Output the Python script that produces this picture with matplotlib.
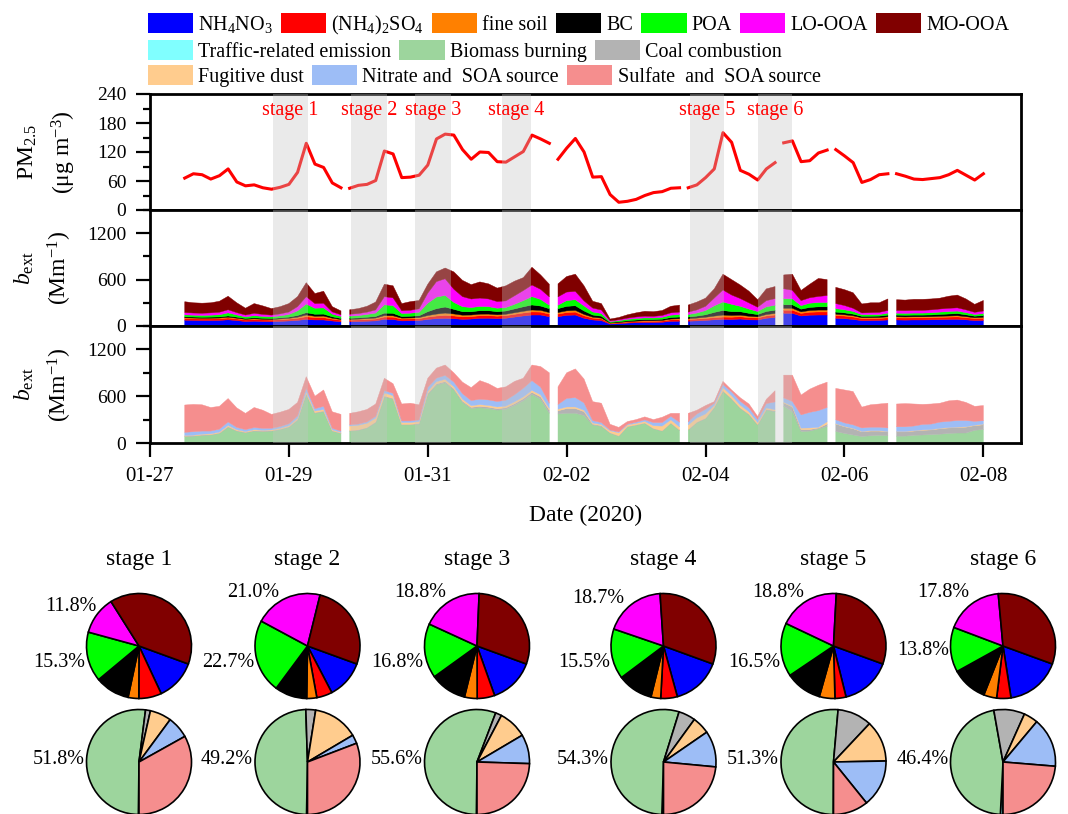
import numpy as np
import matplotlib
matplotlib.use('Agg')
import matplotlib.pyplot as plt
import matplotlib.dates as mdates
from matplotlib.patches import Patch
from matplotlib.ticker import MultipleLocator, NullLocator

plt.rcParams['font.family'] = ['Liberation Serif', 'DejaVu Serif']
plt.rcParams['mathtext.fontset'] = 'custom'
plt.rcParams['mathtext.rm'] = 'Liberation Serif'
plt.rcParams['mathtext.it'] = 'Liberation Serif:italic'
plt.rcParams['mathtext.bf'] = 'Liberation Serif:bold'
plt.rcParams['axes.linewidth'] = 2

# 3-hourly samples, hours after 2020-01-27 00:00
hours = np.arange(12, 289, 3)
gap_after = [66, 138, 183, 216, 234, 255]   # missing data right after these hours

pm25 = [66, 75, 73, 64, 71, 85, 58, 50, 52, 46,
        43, 47, 53, 78, 138, 95, 88, 56, 46, 45,
        51, 53, 61, 122, 116, 67, 68, 72, 93, 147,
        157, 155, 125, 105, 120, 119, 100, 99, 110, 121,
        155, 147, 138, 105, 128, 148, 120, 68, 69, 32,
        16, 18, 22, 30, 36, 38, 45, 46, 46, 52,
        67, 85, 160, 140, 82, 74, 62, 85, 98, 139,
        143, 100, 102, 118, 124, 125, 112, 98, 57, 63,
        73, 75, 75, 70, 64, 63, 65, 67, 73, 82,
        72, 62, 75]

# light extinction by chemical component (Mm-1)
nh4no3 = [75, 72, 70, 70, 72, 80, 70, 58, 62, 58,
          56, 60, 65, 72, 86, 78, 78, 65, 55, 55,
          58, 62, 66, 86, 84, 66, 68, 70, 85, 95,
          99, 95, 86, 90, 99, 100, 95, 100, 115, 130,
          142, 142, 120, 120, 138, 142, 100, 78, 70, 25,
          30, 38, 42, 45, 45, 48, 60, 62, 62, 66,
          72, 80, 86, 84, 90, 80, 78, 100, 110, 164,
          164, 129, 140, 142, 142, 99, 95, 85, 69, 70,
          72, 78, 78, 76, 78, 78, 80, 82, 85, 86,
          80, 70, 72]
nh42so4 = [22, 22, 21, 22, 22, 24, 22, 20, 22, 21,
           20, 22, 24, 28, 34, 30, 30, 24, 20, 20,
           21, 22, 24, 30, 30, 24, 24, 25, 30, 34,
           38, 35, 32, 32, 34, 34, 32, 34, 36, 38,
           40, 38, 34, 34, 36, 38, 32, 24, 22, 8,
           10, 12, 14, 15, 15, 16, 20, 22, 22, 24,
           26, 28, 30, 30, 30, 28, 26, 30, 32, 40,
           40, 34, 38, 40, 40, 35, 34, 32, 26, 26,
           26, 28, 28, 28, 28, 28, 28, 30, 30, 32,
           28, 26, 28]
fine_soil = [9, 9, 9, 9, 9, 10, 9, 8, 9, 8,
             8, 9, 10, 14, 22, 18, 20, 12, 9, 10,
             10, 11, 13, 18, 18, 12, 12, 13, 20, 25,
             30, 26, 22, 20, 20, 20, 18, 18, 20, 22,
             25, 22, 20, 20, 22, 22, 18, 12, 10, 4,
             5, 6, 7, 8, 8, 8, 10, 10, 10, 12,
             15, 20, 25, 22, 20, 18, 14, 18, 20, 25,
             25, 20, 22, 24, 24, 18, 16, 15, 12, 12,
             12, 13, 13, 13, 13, 13, 13, 14, 14, 15,
             13, 11, 12]
bc = [13, 13, 13, 14, 14, 16, 14, 12, 13, 13,
      13, 14, 16, 22, 30, 26, 26, 18, 14, 15,
      16, 18, 20, 32, 32, 20, 22, 24, 50, 70,
      78, 60, 45, 42, 45, 44, 40, 42, 50, 58,
      65, 56, 50, 50, 58, 60, 45, 28, 25, 8,
      10, 12, 14, 15, 15, 16, 20, 22, 22, 26,
      32, 48, 60, 50, 45, 38, 30, 40, 42, 45,
      45, 35, 40, 42, 42, 28, 25, 22, 18, 18,
      18, 22, 22, 22, 22, 22, 22, 24, 26, 28,
      24, 20, 22]
poa = [25, 24, 24, 25, 28, 40, 28, 20, 28, 24,
       22, 26, 34, 60, 112, 78, 80, 35, 26, 28,
       30, 36, 45, 108, 100, 40, 40, 45, 110, 150,
       151, 90, 65, 55, 55, 52, 45, 45, 60, 80,
       108, 86, 45, 45, 75, 78, 65, 40, 35, 12,
       14, 18, 20, 22, 21, 24, 30, 32, 32, 40,
       55, 85, 110, 95, 70, 55, 40, 60, 65, 78,
       78, 45, 55, 56, 56, 45, 40, 35, 22, 22,
       20, 25, 25, 25, 26, 26, 28, 30, 32, 32,
       28, 22, 26]
lo_ooa = [30, 28, 28, 30, 33, 40, 30, 24, 30, 26,
          22, 26, 32, 55, 95, 60, 60, 28, 22, 24,
          26, 30, 40, 105, 100, 36, 38, 45, 130, 200,
          215, 170, 130, 110, 108, 100, 86, 86, 110, 130,
          150, 130, 108, 108, 110, 108, 65, 50, 45, 10,
          12, 16, 20, 22, 21, 24, 30, 32, 32, 40,
          55, 100, 155, 120, 100, 80, 55, 80, 85, 130,
          110, 65, 70, 78, 90, 65, 55, 40, 22, 25,
          28, 35, 35, 34, 35, 35, 38, 40, 42, 42,
          36, 28, 34]
mo_ooa = [140, 132, 130, 130, 142, 175, 127, 88, 126, 110,
          84, 93, 109, 129, 181, 130, 156, 68, 49, 58,
          64, 76, 102, 161, 156, 92, 111, 108, 115, 126,
          139, 224, 210, 186, 209, 195, 174, 195, 189, 167,
          230, 186, 163, 168, 201, 222, 195, 88, 83, 23,
          29, 43, 53, 63, 60, 64, 85, 90, 91, 102,
          105, 119, 204, 199, 175, 151, 97, 152, 156, 178,
          208, 132, 175, 233, 206, 210, 205, 201, 116, 127,
          124, 149, 139, 137, 143, 143, 141, 140, 156, 165,
          141, 103, 136]

# light extinction by source (Mm-1)
traffic = [2] * 69 + [3] * 24
biomass = [81, 85, 95, 100, 120, 200, 150, 130, 150, 145,
           150, 170, 200, 290, 620, 380, 400, 150, 120, 150,
           160, 190, 260, 590, 560, 230, 230, 240, 620, 740,
           770, 680, 520, 440, 450, 440, 420, 430, 480, 540,
           620, 560, 380, 370, 380, 380, 350, 230, 210, 125,
           85, 205, 225, 250, 180, 150, 250, 160, 165, 260,
           310, 450, 660, 560, 440, 360, 230, 420, 400, 470,
           400, 145, 150, 179, 209, 145, 120, 100, 80, 90,
           95, 90, 85, 85, 95, 100, 105, 110, 120, 125,
           125, 160, 170]
coal = [5, 5, 6, 6, 6, 8, 6, 5, 6, 6,
        5, 5, 6, 7, 10, 8, 8, 5, 5, 6,
        6, 6, 8, 10, 10, 6, 6, 8, 12, 15,
        15, 15, 15, 15, 18, 18, 18, 20, 22, 25,
        28, 30, 40, 40, 60, 60, 50, 10, 10, 5,
        5, 5, 5, 5, 5, 5, 5, 5, 5, 5,
        6, 6, 8, 8, 8, 8, 6, 8, 10, 40,
        60, 25, 20, 10, 30, 95, 85, 80, 60, 60,
        55, 50, 55, 55, 55, 60, 60, 70, 70, 70,
        75, 60, 60]
dust = [8, 8, 10, 10, 12, 15, 12, 10, 12, 10,
        10, 12, 14, 18, 25, 20, 20, 12, 10, 60,
        60, 55, 50, 40, 35, 25, 25, 25, 30, 30,
        30, 25, 25, 22, 22, 22, 22, 22, 25, 25,
        25, 25, 22, 22, 20, 20, 18, 15, 15, 25,
        40, 20, 20, 20, 35, 60, 40, 40, 60, 55,
        55, 25, 40, 35, 35, 30, 25, 20, 15, 10,
        10, 18, 20, 10, 30, 5, 5, 5, 5, 5,
        5, 5, 5, 5, 5, 5, 5, 5, 5, 5,
        5, 5, 8]
nitrate_soa = [40, 45, 40, 35, 38, 45, 30, 25, 28, 25,
               22, 22, 25, 30, 45, 30, 40, 20, 15, 15,
               15, 18, 22, 30, 30, 20, 20, 22, 50, 45,
               50, 60, 70, 65, 70, 70, 70, 75, 90, 110,
               125, 100, 65, 60, 110, 120, 95, 30, 25, 10,
               10, 10, 15, 20, 40, 45, 45, 60, 40, 50,
               60, 25, 40, 50, 50, 50, 40, 55, 100, 55,
               60, 170, 200, 213, 184, 50, 45, 45, 45, 45,
               45, 45, 60, 60, 60, 70, 70, 80, 80, 85,
               80, 50, 45]
sulfate_soa = [351, 350, 337, 302, 292, 300, 250, 208, 257, 232,
               178, 184, 183, 173, 148, 160, 210, 211, 215, 147,
               157, 159, 158, 158, 123, 217, 227, 193, 116, 128,
               133, 118, 148, 166, 238, 208, 168, 171, 171, 128,
               200, 263, 391, 226, 328, 368, 305, 243, 248, 73,
               58, 33, 33, 38, 38, 68, 38, 113, 108, 48,
               47, 22, 40, 25, 45, 50, 37, 55, 143, 292,
               337, 254, 297, 325, 324, 402, 422, 427, 267, 287,
               297, 317, 292, 297, 282, 257, 257, 242, 262, 262,
               232, 192, 194]

stage_names = ['stage 1', 'stage 2', 'stage 3', 'stage 4', 'stage 5', 'stage 6']
stage_hours = [(42.5, 54.5), (69.5, 82), (91.5, 104), (121.5, 131.5), (186.5, 198.5), (210, 222)]

chem_names = ['NH$_4$NO$_3$', '(NH$_4$)$_2$SO$_4$', 'fine soil', 'BC', 'POA', 'LO-OOA', 'MO-OOA']
chem_colors = ['#0000ff', '#ff0000', '#ff8000', '#000000', '#00ff00', '#ff00ff', '#800000']
src_names = ['Traffic-related emission', 'Biomass burning', 'Coal combustion',
             'Fugitive dust', 'Nitrate and  SOA source', 'Sulfate  and  SOA source']
src_colors = ['#80ffff', '#9dd59d', '#b3b3b3', '#ffcc8e', '#9dbdf6', '#f58e8e']

# stage-mean shares (%) for the pies
chem_share = [[12.5, 7.0, 3.3, 10.6, 15.3, 11.8, 39.5],
              [11.8, 4.8, 3.1, 9.9, 22.7, 21.0, 26.7],
              [14.0, 5.4, 3.9, 11.2, 16.8, 18.8, 29.9],
              [15.2, 5.1, 3.0, 10.9, 15.5, 18.7, 31.6],
              [15.6, 3.4, 4.8, 11.2, 16.5, 18.8, 29.7],
              [17.0, 4.4, 4.0, 11.0, 13.8, 17.8, 32.0]]
src_share = [[0.2, 51.8, 1.5, 6.6, 6.8, 33.1],
             [0.3, 49.2, 3.0, 14.0, 2.7, 30.8],
             [0.2, 55.6, 1.9, 8.8, 9.0, 24.5],
             [0.5, 54.3, 5.2, 5.4, 11.1, 23.5],
             [0.1, 51.3, 10.6, 12.7, 14.5, 10.8],
             [0.8, 46.4, 9.5, 4.4, 15.2, 23.7]]

# ---- time axis with breaks
idx = [int(np.searchsorted(hours, g)) + 1 for g in gap_after]
t_all = np.insert(hours.astype(float), idx, np.array(gap_after) + 1.5)


def gapped(v):
    return np.insert(np.asarray(v, float), idx, np.nan)


t0 = mdates.date2num(np.datetime64('2020-01-27T00:00'))
x = t0 + t_all / 24

W, H = 1068, 814
fig = plt.figure(figsize=(W / 100, H / 100), dpi=100)


def box(l, t, r, b):
    return [l / W, 1 - b / H, (r - l) / W, (b - t) / H]


ax1 = fig.add_axes(box(150, 94, 1021, 210))
ax2 = fig.add_axes(box(150, 210, 1021, 326))
ax3 = fig.add_axes(box(150, 326, 1021, 443))

ax1.plot(x, gapped(pm25), color='red', lw=2.2, zorder=2)
chem = [nh4no3, nh42so4, fine_soil, bc, poa, lo_ooa, mo_ooa]
src = [traffic, biomass, coal, dust, nitrate_soa, sulfate_soa]
ax2.stackplot(x, *[gapped(s) for s in chem], colors=chem_colors, edgecolor='face', lw=0.3)
ax3.stackplot(x, *[gapped(s) for s in src], colors=src_colors, edgecolor='face', lw=0.3)

for name, (s, e) in zip(stage_names, stage_hours):
    for ax in (ax1, ax2, ax3):
        ax.axvspan(t0 + s / 24, t0 + e / 24, color='#c4c4c4', alpha=0.35, lw=0, zorder=3)
    ax1.text(t0 + (s + e) / 48, 205, name, color='red', ha='center', va='center',
             fontsize=14.5, zorder=4)

for ax in (ax1, ax2, ax3):
    ax.set_xlim(t0, t0 + 301 / 24)
    ax.tick_params(axis='both', which='major', direction='out', length=10, width=1.6,
                   labelsize=14, pad=7)
    ax.tick_params(axis='both', which='minor', direction='out', length=5, width=1.6)
ax1.set_ylim(0, 240)
ax1.set_yticks([0, 60, 120, 180, 240])
ax1.yaxis.set_minor_locator(MultipleLocator(30))
for ax in (ax2, ax3):
    ax.set_ylim(0, 1500)
    ax.set_yticks([0, 600, 1200])
    ax.yaxis.set_minor_locator(MultipleLocator(300))
for ax in (ax1, ax2):
    ax.tick_params(axis='x', which='both', bottom=False, labelbottom=False)
ax3.set_xticks(t0 + np.arange(0, 13, 2))
ax3.xaxis.set_major_formatter(mdates.DateFormatter('%m-%d'))
ax3.xaxis.set_minor_locator(NullLocator())
ax3.tick_params(axis='x', labelsize=15)

ax1.set_ylabel('PM$_{2.5}$\n(μg m$^{-3}$)', fontsize=17, linespacing=1.5)
ax1.yaxis.set_label_coords(-0.083, 0.5)
for ax in (ax2, ax3):
    ax.set_ylabel('$b_{\\mathrm{ext}}$\n(Mm$^{-1}$)', fontsize=17, linespacing=1.5)
    ax.yaxis.set_label_coords(-0.087, 0.5)
ax3.set_xlabel('Date (2020)', fontsize=17)
ax3.xaxis.set_label_coords(0.5, -0.53)

# ---- legend rows
rows = [(chem_names, chem_colors, 25),
        (src_names[:3], src_colors[:3], 51),
        (src_names[3:], src_colors[3:], 76)]
for names, cols, ypx in rows:
    handles = [Patch(facecolor=c, edgecolor='none') for c in cols]
    fig.legend(handles, names, loc='center left', bbox_to_anchor=(148 / W, 1 - ypx / H),
               ncol=len(names), frameon=False, fontsize=14.5, handlelength=2.25,
               handleheight=1.1, handletextpad=0.25, columnspacing=0.4,
               borderpad=0, borderaxespad=0)

# ---- pies
pie_cx = [139, 307.5, 477, 663.5, 833.5, 1003]
r = 52.5
lo_xy = [(-0.81, 0.75), (-0.53, 1.02), (-0.58, 1.02), (-0.74, 0.9), (-0.55, 1.02), (-0.65, 1.02)]
poa_y = [-0.31, -0.31, -0.31, -0.31, -0.31, -0.08]
for i, cx in enumerate(pie_cx):
    fig.text(cx / W, 1 - 560 / H, stage_names[i], ha='center', va='center', fontsize=17)
    for cy, shares, cols, start in ((646, chem_share[i], chem_colors, -20),
                                   (762, src_share[i], src_colors, -90)):
        axp = fig.add_axes(box(cx - r * 1.04, cy - r * 1.04, cx + r * 1.04, cy + r * 1.04))
        axp.pie(shares, colors=cols, startangle=start, counterclock=False,
                wedgeprops=dict(edgecolor='black', linewidth=1.2))
        axp.set_xlim(-1.04, 1.04)
        axp.set_ylim(-1.04, 1.04)
        axp.set_aspect('equal')
        if cy == 646:
            axp.text(lo_xy[i][0], lo_xy[i][1], f'{shares[5]:.1f}%', ha='right', va='center',
                     fontsize=14.5)
            axp.text(-1.02, poa_y[i], f'{shares[4]:.1f}%', ha='right', va='center',
                     fontsize=14.5)
        else:
            axp.text(-1.04, 0.04, f'{shares[1]:.1f}%', ha='right', va='center', fontsize=14.5)

fig.savefig('out.png', dpi=100)
